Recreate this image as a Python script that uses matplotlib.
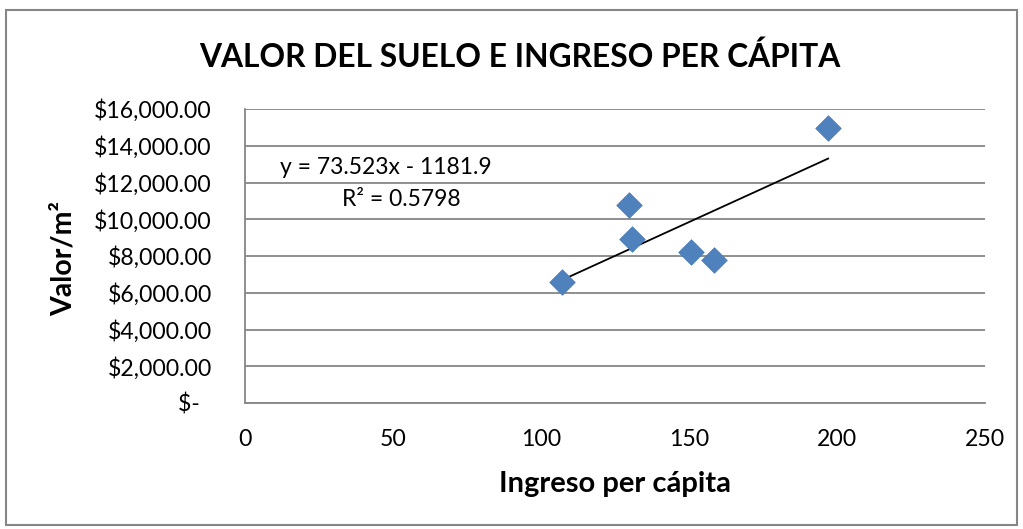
import numpy as np
import matplotlib.pyplot as plt
from matplotlib.patches import Rectangle
from matplotlib.ticker import FuncFormatter

plt.rcParams['font.family'] = ['Lato', 'DejaVu Sans']

## datos
ingreso = [107.1, 129.7, 130.7, 150.7, 158.4, 197.0]
valor = [6585, 10776, 8925, 8218, 7782, 14966]

## linea de tendencia (como la muestra el grafico)
pendiente = 73.523
intercepto = -1181.9
r2 = 0.5798

titulo = 'VALOR DEL SUELO E INGRESO PER CÁPITA'
xlabel = 'Ingreso per cápita'
ylabel = 'Valor/m²'

def moneda(v, pos):
    if v == 0:
        return '$-  '
    return '${:,.2f}'.format(v)

fig = plt.figure(figsize=(10.23, 5.29), dpi=100)
ax = fig.add_axes([245/1023, 1-403/529, 740/1023, 294/529])

ax.scatter(ingreso, valor, marker='D', s=170, color='#4F81BD', zorder=3,
           edgecolors='#4A7EBB', linewidths=0.5)

xt = np.array([min(ingreso), max(ingreso)])
ax.plot(xt, pendiente*xt + intercepto, color='black', lw=1.3, zorder=2)

ax.set_xlim(0, 250)
ax.set_ylim(0, 16000)
ax.set_xticks(np.arange(0, 251, 50))
ax.set_yticks(np.arange(0, 16001, 2000))
ax.yaxis.set_major_formatter(FuncFormatter(moneda))
ax.grid(True, axis='y', color='#868686', lw=1.3)
ax.set_axisbelow(True)
for s in ['top', 'right']:
    ax.spines[s].set_visible(False)
for s in ['left', 'bottom']:
    ax.spines[s].set_color('#868686')
    ax.spines[s].set_linewidth(1.3)
ax.tick_params(axis='both', labelsize=16.6, length=0, colors='black')
ax.tick_params(axis='y', pad=24)
ax.tick_params(axis='x', pad=19)

ax.set_xlabel(xlabel, fontsize=21, fontweight='bold', va='center')
ax.xaxis.set_label_coords(0.5, (403-484)/294)
# etiqueta del eje y como texto centrado
fig.text(64/1023, 1-258/529, ylabel, fontsize=20.5, fontweight='bold',
         rotation=90, ha='center', va='center')
fig.text(520/1023, 1-57/529, titulo, fontsize=22.9, fontweight='bold',
         ha='center', va='center')

fig.text(386/1023, 1-167/529, 'y = {:.3f}x - {:.1f}'.format(pendiente, -intercepto),
         fontsize=16.5, ha='center', va='center')
fig.text(401/1023, 1-199/529, 'R² = {:.4f}'.format(r2),
         fontsize=16.5, ha='center', va='center')

fig.patches.append(Rectangle((6/1023, 4/529), 1011/1023, 515/529,
                             transform=fig.transFigure, fill=False,
                             edgecolor='#868686', lw=1.5))

plt.savefig('out.png', dpi=100)
